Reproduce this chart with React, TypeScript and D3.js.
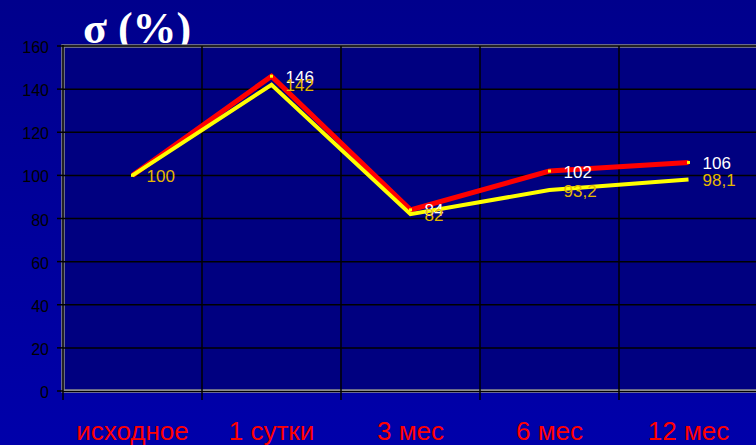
import React from "react";
import * as d3 from "d3";

// Categories along the time axis
const categories = ["исходное", "1 сутки", "3 мес", "6 мес", "12 мес"];
// Two series of σ, percent of baseline
const redSeries = [100, 146, 84, 102, 106];
const yellowSeries = [100, 142, 82, 93.2, 98.1];
const yTicks = [0, 20, 40, 60, 80, 100, 120, 140, 160];

const W = 756;
const H = 445;
const plot = { left: 63, right: 758, top: 46, bottom: 391 };

const fmt = (v: number) => String(v).replace(".", ",");

export default function App() {
  const x = d3.scaleBand<string>().domain(categories).range([plot.left, plot.right]);
  const y = d3.scaleLinear().domain([0, 160]).range([plot.bottom, plot.top]);
  const cx = (c: string) => (x(c) as number) + x.bandwidth() / 2;

  const line = d3
    .line<number>()
    .x((_, i) => cx(categories[i]))
    .y((d) => y(d));

  const boundaries = categories.slice(1).map((c) => x(c) as number);

  return (
    <svg
      width={W}
      height={H}
      style={{ position: "fixed", left: 0, top: 0, display: "block" }}
    >
      <defs>
        <linearGradient id="bg" x1="0" y1="0" x2="0" y2="1">
          <stop offset="0" stopColor="#00008c" />
          <stop offset="1" stopColor="#0000aa" />
        </linearGradient>
      </defs>
      <rect x={0} y={0} width={W} height={H} fill="url(#bg)" />

      {/* title, partly tucked behind the plot frame */}
      <text
        x={83}
        y={43}
        fill="#ffffff"
        fontFamily="'Liberation Serif', 'Times New Roman', serif"
        fontWeight="bold"
        fontSize={44}
      >
        σ (%)
      </text>

      {/* plot area */}
      <rect
        x={plot.left}
        y={plot.top}
        width={plot.right - plot.left}
        height={plot.bottom - plot.top}
        fill="#000080"
        stroke="#8c8c8c"
        strokeWidth={3.5}
      />

      {/* horizontal gridlines */}
      {yTicks.slice(1).map((t) => (
        <line
          key={t}
          x1={plot.left}
          x2={plot.right}
          y1={y(t)}
          y2={y(t)}
          stroke="#000000"
          strokeWidth={1.5}
        />
      ))}
      {/* vertical gridlines at category boundaries, extending as ticks */}
      {boundaries.map((b) => (
        <line key={b} x1={b} x2={b} y1={plot.top} y2={plot.bottom + 9} stroke="#000" strokeWidth={1.5} />
      ))}

      {/* axes */}
      <line x1={plot.left} x2={plot.left} y1={plot.top - 1} y2={plot.bottom + 9} stroke="#000" strokeWidth={1.5} />
      <line x1={plot.left} x2={plot.right} y1={plot.bottom + 0.5} y2={plot.bottom + 0.5} stroke="#000" strokeWidth={1} />
      {yTicks.map((t) => (
        <g key={t}>
          <line x1={plot.left - 6} x2={plot.left} y1={y(t)} y2={y(t)} stroke="#000" strokeWidth={1.5} />
          <text
            x={49}
            y={y(t) + 1.5}
            textAnchor="end"
            dominantBaseline="central"
            fontFamily="'Liberation Sans', Arial, sans-serif"
            fontSize={16}
            fill="#000000"
          >
            {t}
          </text>
        </g>
      ))}

      {/* category labels */}
      {categories.map((c) => (
        <text
          key={c}
          x={cx(c)}
          y={440}
          textAnchor="middle"
          fontFamily="'Liberation Sans', Arial, sans-serif"
          fontSize={26}
          fill="#ff0000"
        >
          {c}
        </text>
      ))}

      {/* series lines */}
      <path d={line(redSeries) || ""} fill="none" stroke="#ff0000" strokeWidth={5} strokeLinejoin="miter" />
      {redSeries.map((v, i) => (
        <rect key={i} x={cx(categories[i]) - 1.5} y={y(v) - 1.5} width={3} height={3} fill="#ffff00" />
      ))}
      <path d={line(yellowSeries) || ""} fill="none" stroke="#ffff00" strokeWidth={4} strokeLinejoin="miter" />

      {/* value labels; where both series coincide only one label is shown */}
      {redSeries.map((v, i) =>
        v === yellowSeries[i] ? null : (
          <text
            key={"r" + i}
            x={cx(categories[i]) + 14}
            y={y(v) + 1}
            dominantBaseline="central"
            fontFamily="'Liberation Sans', Arial, sans-serif"
            fontSize={17}
            fill="#ffffff"
          >
            {fmt(v)}
          </text>
        )
      )}
      {yellowSeries.map((v, i) => (
        <text
          key={"y" + i}
          x={cx(categories[i]) + 14}
          y={y(v) + 1}
          dominantBaseline="central"
          fontFamily="'Liberation Sans', Arial, sans-serif"
          fontSize={17}
          fill="#e6b800"
        >
          {fmt(v)}
        </text>
      ))}
    </svg>
  );
}
